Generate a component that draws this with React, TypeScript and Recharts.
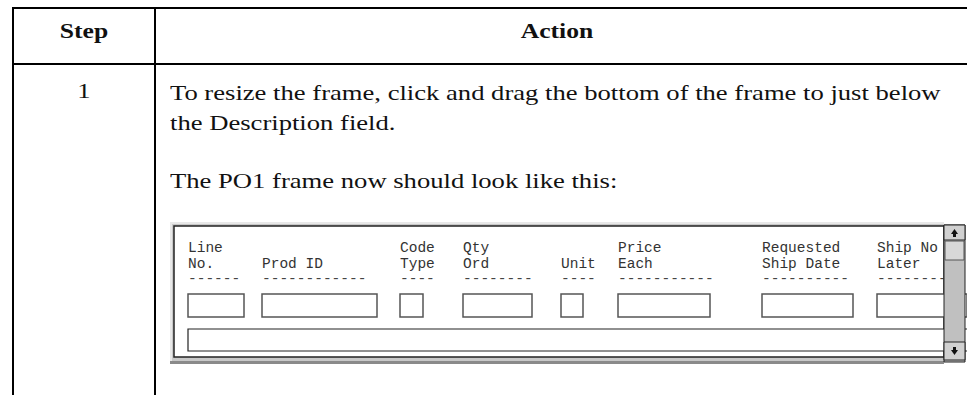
import React from 'react';
import { Surface, Rectangle, Layer } from 'recharts';

// column captions of the PO1 frame, top and bottom line
const captionTop = ['Line', '', 'Code', 'Qty', '', 'Price', 'Requested', 'Ship No'];
const captionBottom = ['No.', 'Prod ID', 'Type', 'Ord', 'Unit', 'Each', 'Ship Date', 'Later'];
const dashCounts = [6, 12, 4, 8, 4, 11, 10, 8];

const headerStep = 'Step';
const headerAction = 'Action';
const stepNumber = '1';
const actionLines = [
  'To resize the frame, click and drag the bottom of the frame to just below',
  'the Description field.',
];
const actionNote = 'The PO1 frame now should look like this:';

// layout (pixels), kept apart from the data
const colX = [188, 262, 400, 463, 561, 618, 762, 877];
const boxW = [56, 115, 23, 69, 22, 92, 91, 90];

const serif = '"Liberation Serif", "Times New Roman", serif';
const mono = '"Liberation Mono", "Courier New", monospace';
const stretch = 'scaleX(1.21)';

function PoFrame() {
  const ox = 170;
  const oy = 222;
  const W = 797;
  const H = 145;
  const sx = 944 - ox; // scrollbar left
  return (
    <div style={{ position: 'absolute', left: ox, top: oy, width: W, height: H }}>
      <Surface width={W} height={H} viewBox={{ x: ox, y: oy, width: W, height: H }}>
        {/* bevel */}
        <Rectangle x={ox} y={oy} width={sx} height={142} fill="#c8c8c8" />
        <Rectangle x={ox} y={oy} width={sx} height={2} fill="#e8e8e8" />
        <Rectangle x={ox} y={oy} width={2} height={142} fill="#e8e8e8" />
        <Rectangle x={ox} y={oy + 139} width={sx} height={3} fill="#8a8a8a" />
        <Rectangle x={ox + 4} y={oy + 4} width={sx - 4} height={131} fill="#ffffff" stroke="#222" strokeWidth={1.5} />
        <Layer>
          {captionTop.map((t, i) => (
            <text key={'a' + i} x={colX[i]} y={252} fontFamily={mono} fontSize={14.5} fill="#333">{t}</text>
          ))}
          {captionBottom.map((t, i) => (
            <text key={'b' + i} x={colX[i]} y={268} fontFamily={mono} fontSize={14.5} fill="#333">{t}</text>
          ))}
          {dashCounts.map((n, i) => (
            <text key={'d' + i} x={colX[i]} y={283} fontFamily={mono} fontSize={14.5} fill="#444">{'-'.repeat(n)}</text>
          ))}
          {colX.map((x, i) => (
            <Rectangle key={'f' + i} x={x} y={294} width={boxW[i]} height={23} fill="#fff" stroke="#555" strokeWidth={1.5} />
          ))}
          <Rectangle x={188} y={329} width={780} height={22} fill="#fff" stroke="#222" strokeWidth={1.2} />
        </Layer>
        {/* scrollbar */}
        <Layer>
          <Rectangle x={944} y={oy + 3} width={21} height={137} fill="#c0c0c0" stroke="#222" strokeWidth={1} />
          <Rectangle x={944} y={oy + 3} width={21} height={15} fill="#d0d0d0" stroke="#222" strokeWidth={1} />
          <Rectangle x={945} y={oy + 19} width={19} height={19} fill="#d8d8d8" stroke="#555" strokeWidth={1} />
          <Rectangle x={944} y={oy + 120} width={21} height={18} fill="#d0d0d0" stroke="#222" strokeWidth={1} />
          <path d={`M951 ${oy + 12} L958 ${oy + 12} L954.5 ${oy + 7} Z`} fill="#111" />
          <Rectangle x={953} y={oy + 11} width={3} height={4} fill="#111" />
          <path d={`M951 ${oy + 128} L958 ${oy + 128} L954.5 ${oy + 133} Z`} fill="#111" />
          <Rectangle x={953} y={oy + 125} width={3} height={4} fill="#111" />
        </Layer>
      </Surface>
    </div>
  );
}

export default function App() {
  return (
    <div style={{ position: 'absolute', left: 0, top: 0, width: 967, height: 395, background: '#fff', overflow: 'hidden', fontFamily: serif, color: '#111' }}>
      {/* table rules */}
      <div style={{ position: 'absolute', left: 12, top: 7, width: 960, height: 2, background: '#000' }} />
      <div style={{ position: 'absolute', left: 12, top: 63, width: 960, height: 2, background: '#000' }} />
      <div style={{ position: 'absolute', left: 12, top: 7, width: 2, height: 400, background: '#000' }} />
      <div style={{ position: 'absolute', left: 154, top: 7, width: 2, height: 400, background: '#000' }} />

      {/* header */}
      <div style={{ position: 'absolute', left: 14, width: 140, top: 20, textAlign: 'center', fontWeight: 'bold', fontSize: 20, transform: 'scaleX(1.28)' }}>{headerStep}</div>
      <div style={{ position: 'absolute', left: 156, width: 802, top: 20, textAlign: 'center', fontWeight: 'bold', fontSize: 20, transform: 'scaleX(1.28)' }}>{headerAction}</div>

      {/* row */}
      <div style={{ position: 'absolute', left: 14, width: 140, top: 78, textAlign: 'center', fontSize: 22, transform: stretch }}>{stepNumber}</div>
      <div style={{ position: 'absolute', left: 170, top: 78, fontSize: 22, lineHeight: '30px', whiteSpace: 'nowrap', transform: stretch, transformOrigin: 'left top' }}>
        {actionLines.map(l => <div key={l}>{l}</div>)}
      </div>
      <div style={{ position: 'absolute', left: 170, top: 166, fontSize: 22, lineHeight: '30px', whiteSpace: 'nowrap', transform: stretch, transformOrigin: 'left top' }}>{actionNote}</div>

      <PoFrame />
    </div>
  );
}
